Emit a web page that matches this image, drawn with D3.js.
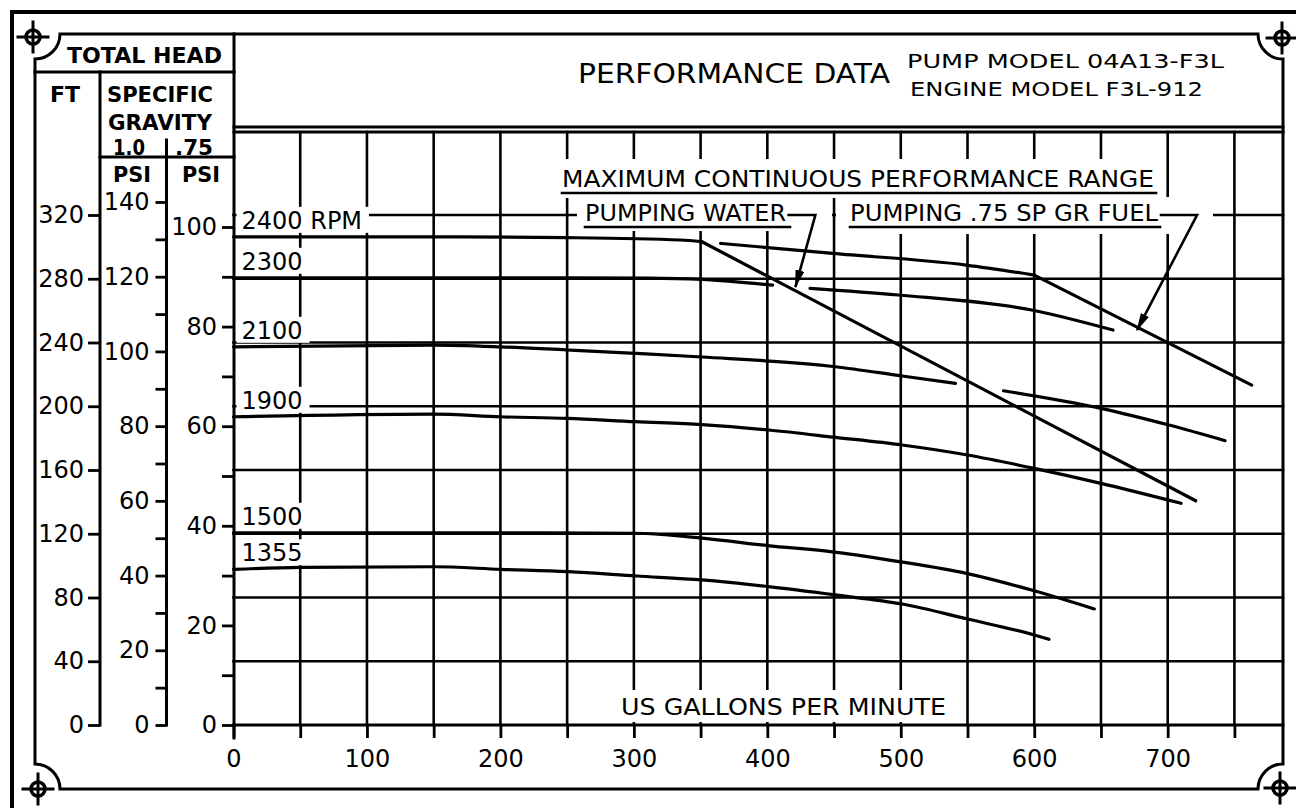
<html>
<head>
<title>Performance Data - Pump 04A13-F3L</title>
<script src="https://d3js.org/d3.v7.min.js"></script>
<style>
body { margin: 0; background: #fff; }
svg { display: block; }
text { font-family: 'DejaVu Sans', sans-serif; fill: #000; }
</style>
</head>
<body>
<div id="chart"></div>
<script>

// Tick values / labels
var gpmLabels = [0, 100, 200, 300, 400, 500, 600, 700];
var gpmGrid = [0, 50, 100, 150, 200, 250, 300, 350, 400, 450, 500, 550, 600, 650, 700, 750];
var ftLabels = [0, 40, 80, 120, 160, 200, 240, 280, 320];
var ftGrid = [40, 80, 120, 160, 200, 240, 280, 320];
var psiWaterLabels = [0, 20, 40, 60, 80, 100, 120, 140];
var psiWaterMinor = [10, 30, 50, 70, 90, 110, 130];
var psiFuelLabels = [0, 20, 40, 60, 80, 100];
var psiFuelMinor = [10, 30, 50, 70, 90];

// Head curves, [US gpm, total head ft]
var rpm2400Water = [[0, 306.3], [150, 306.3], [250, 305.8], [335, 304.3], [351, 303.2]];
var rpm2400Fuel = [[365, 302.2], [449, 295.9], [549, 288.6], [600, 282.3]];
var rpm2300Water = [[0, 280.6], [150, 280.6], [250, 280.5], [311, 280.4], [351, 279.6], [404, 276.0]];
var rpm2300Fuel = [[432, 274.0], [498, 269.8], [598, 260.4], [659, 247.8]];
var rpm2100Water = [[0, 237.3], [150, 238.4], [200, 237.3], [250, 235.3], [301, 233.2], [351, 230.9], [451, 224.8], [501, 219.0], [541, 214.4]];
var rpm2100Fuel = [[577, 209.7], [650, 198.7], [701, 188.2], [743, 178.4]];
var rpm1900 = [[0, 193.4], [150, 195.1], [200, 193.4], [250, 192.4], [301, 190.3], [351, 188.5], [401, 185.1], [451, 180.5], [501, 175.7], [550, 169.4], [600, 161.0], [650, 151.6], [710, 139.1]];
var rpm1500 = [[0, 120.6], [150, 120.6], [300, 120.3], [351, 117.3], [400, 112.6], [450, 108.5], [500, 102.4], [550, 95.0], [600, 84.2], [645, 72.8]];
var rpm1355 = [[0, 97.7], [50, 98.9], [150, 99.3], [200, 97.7], [251, 96.2], [302, 93.5], [351, 91.0], [401, 86.8], [451, 81.6], [501, 75.9], [550, 66.5], [600, 56.5], [611, 53.8]];

// Maximum continuous performance limits
var waterLimit = [[351, 303.2], [721, 140.7]];
var fuelLimit = [[600, 282.3], [763, 213.3]];

// Leader arrows (gpm, ft)
var waterArrow = [[415, 320], [436, 320], [421, 274.8]];
var fuelArrow = [[694, 320], [722, 320], [677, 247.8]];

var rpmNames = ["2400 RPM", "2300", "2100", "1900", "1500", "1355"];
var rpmStarts = [rpm2400Water, rpm2300Water, rpm2100Water, rpm1900, rpm1500, rpm1355];

var W = 1296, H = 808;
var svg = d3.select("#chart").append("svg").attr("width", W).attr("height", H);

var x = d3.scaleLinear().domain([0, 786.4]).range([233.5, 1283]);
var ft = d3.scaleLinear().domain([0, 320]).range([725, 215]);
var psiWater = d3.scaleLinear().domain([0, 140]).range([725, 202]);
var psiFuel = d3.scaleLinear().domain([0, 100]).range([725, 227]);

var plotTop = 132, plotBottom = 725;

function seg(g, x1, y1, x2, y2, w) {
  g.append("line").attr("x1", x1).attr("y1", y1).attr("x2", x2).attr("y2", y2)
  .attr("stroke", "#000").attr("stroke-width", w || 2.8).attr("stroke-linecap", "square");
}

var gridG = svg.append("g");
var maskG = svg.append("g");
var curveG = svg.append("g");
var frameG = svg.append("g");
var textG = svg.append("g");

// Grid
ftGrid.forEach(function (v) { seg(gridG, x(0), ft(v), x.range()[1], ft(v), 2.6); });
gpmGrid.forEach(function (v) { if (v > 0) seg(gridG, x(v), plotTop, x(v), plotBottom, 2.6); });
seg(gridG, x(0), plotBottom, x.range()[1], plotBottom, 2.8);

// Frames
svg.append("path").attr("d", "M12,808 V12 H1296")
.attr("fill", "none").attr("stroke", "#000").attr("stroke-width", 4);

var L = 35, R = 1283, T = 34, B = 789, r = 25;
frameG.append("path")
.attr("d", "M" + L + "," + (T + r) + " A" + r + "," + r + " 0 0 0 " + (L + r) + "," + T +
  " H" + (R - r) + " A" + r + "," + r + " 0 0 0 " + R + "," + (T + r) +
  " V" + (B - r) + " A" + r + "," + r + " 0 0 0 " + (R - r) + "," + B +
  " H" + (L + r) + " A" + r + "," + r + " 0 0 0 " + L + "," + (B - r) + " Z")
.attr("fill", "none").attr("stroke", "#000").attr("stroke-width", 3);

function crosshair(cx, cy) {
  var g = frameG.append("g").attr("transform", "translate(" + cx + "," + cy + ")");
  g.append("circle").attr("r", 7).attr("fill", "#fff").attr("stroke", "#000").attr("stroke-width", 3.5);
  seg(g, -15, 0, 15, 0, 3);
  seg(g, 0, -15, 0, 15, 3);
}
crosshair(L - 2, T + 3);
crosshair(R - 1, T + 4);
crosshair(L + 3, B);
crosshair(R - 3, B - 1);

// Header boxes
seg(frameG, L, 72, 234, 72, 3);
seg(frameG, 100, 72, 100, plotBottom, 3);
seg(frameG, 100, 157, 234, 157, 3);
seg(frameG, 166.5, 140, 166.5, plotBottom, 3);
seg(frameG, 234, T, 234, 738, 3);
seg(frameG, 234, 127, R, 127, 3);
seg(frameG, 234, plotTop, R, plotTop, 3);

// Axes
function styleAxis(g) {
  g.select(".domain").remove();
  g.attr("font-family", "'DejaVu Sans', sans-serif").attr("font-size", 24);
  g.selectAll("line").attr("stroke", "#000").attr("stroke-width", 2.8);
}
var ftAxis = frameG.append("g").attr("transform", "translate(100,0)")
.call(d3.axisLeft(ft).tickValues(ftLabels).tickSize(12).tickPadding(4));
styleAxis(ftAxis);

var pwMinor = frameG.append("g").attr("transform", "translate(166.5,0)")
.call(d3.axisLeft(psiWater).tickValues(psiWaterMinor).tickSize(11).tickFormat(""));
styleAxis(pwMinor);
var pwAxis = frameG.append("g").attr("transform", "translate(166.5,0)")
.call(d3.axisLeft(psiWater).tickValues(psiWaterLabels).tickSize(11).tickPadding(6));
styleAxis(pwAxis);

var pfMinor = frameG.append("g").attr("transform", "translate(234,0)")
.call(d3.axisLeft(psiFuel).tickValues(psiFuelMinor).tickSize(12).tickFormat(""));
styleAxis(pfMinor);
var pfAxis = frameG.append("g").attr("transform", "translate(234,0)")
.call(d3.axisLeft(psiFuel).tickValues(psiFuelLabels).tickSize(12).tickPadding(5));
styleAxis(pfAxis);

var xAxis = frameG.append("g").attr("transform", "translate(0," + plotBottom + ")")
.call(d3.axisBottom(x).tickValues(gpmGrid).tickSize(13).tickPadding(12)
  .tickFormat(function (d) { return gpmLabels.indexOf(d) >= 0 ? d : ""; }));
styleAxis(xAxis);

// Text with a white mask behind it (pad = [left, top, right, bottom] around the baseline box)
function label(str, tx, ty, size, len, opts) {
  opts = opts || {};
  var t = textG.append("text").attr("x", tx).attr("y", ty)
  .attr("font-size", size).text(str);
  if (opts.bold) t.attr("font-weight", "bold");
  if (len) t.attr("textLength", len).attr("lengthAdjust", "spacingAndGlyphs");
  if (opts.pad) {
    var w = len || t.node().getComputedTextLength();
    var p = opts.pad;
    maskG.append("rect").attr("x", tx - p[0]).attr("y", ty - p[1])
    .attr("width", w + p[0] + p[2]).attr("height", p[1] + p[3]).attr("fill", "#fff");
  }
  if (opts.underline) {
    seg(textG, tx, ty + 6, tx + (len || t.node().getComputedTextLength()) + opts.underline, ty + 6, 2.6);
  }
  return t;
}

// Left header
label("TOTAL HEAD", 67, 63, 22, 155, { bold: true });
label("FT", 50, 102, 22, 30, { bold: true });
label("SPECIFIC", 107, 102, 22, 106, { bold: true });
label("GRAVITY", 108, 130, 22, 104, { bold: true });
label("1.0", 113, 155, 22, 32, { bold: true });
label(".75", 175, 155, 22, 38, { bold: true });
label("PSI", 113, 182, 21, 38, { bold: true });
label("PSI", 182, 182, 21, 38, { bold: true });

// Main header
label("PERFORMANCE DATA", 578, 83, 26, 312);
label("PUMP MODEL 04A13-F3L", 907, 68, 19, 317);
label("ENGINE MODEL F3L-912", 910, 96, 20, 293);

// Range annotations
label("MAXIMUM CONTINUOUS PERFORMANCE RANGE", 562, 187, 23, 592, { pad: [4, 28, 6, 11], underline: 2 });
label("PUMPING WATER", 585, 221, 23, 201, { pad: [8, 24, 46, 10], underline: 4 });
label("PUMPING .75 SP GR FUEL", 850, 221, 23, 308, { pad: [14, 24, 55, 13], underline: 2 });
label("US GALLONS PER MINUTE", 621, 715, 23, 325, { pad: [9, 25, 9, 7] });

// RPM labels just above the start of each curve
rpmNames.forEach(function (name, i) {
  var by = ft(rpmStarts[i][0][1]) - 8;
  label(name, x(0) + 8, by, 24, null, { pad: [5, 22, 7, 4] });
});

// Curves
var line = d3.line().x(function (d) { return x(d[0]); }).y(function (d) { return ft(d[1]); })
.curve(d3.curveMonotoneX);
var straight = d3.line().x(function (d) { return x(d[0]); }).y(function (d) { return ft(d[1]); });

[rpm2400Water, rpm2400Fuel, rpm2300Water, rpm2300Fuel, rpm2100Water, rpm2100Fuel, rpm1900, rpm1500, rpm1355]
.forEach(function (c) {
  curveG.append("path").attr("d", line(c)).attr("fill", "none")
  .attr("stroke", "#000").attr("stroke-width", 3.2).attr("stroke-linecap", "round");
});
[waterLimit, fuelLimit].forEach(function (c) {
  curveG.append("path").attr("d", straight(c)).attr("fill", "none")
  .attr("stroke", "#000").attr("stroke-width", 3.2).attr("stroke-linecap", "round");
});

// Arrows
svg.append("defs").append("marker").attr("id", "arrow")
.attr("markerUnits", "userSpaceOnUse").attr("markerWidth", 18).attr("markerHeight", 9)
.attr("refX", 17).attr("refY", 4.5).attr("orient", "auto")
.append("path").attr("d", "M0,0 L18,4.5 L0,9 Z").attr("fill", "#000");

[waterArrow, fuelArrow].forEach(function (a) {
  textG.append("path").attr("d", straight(a)).attr("fill", "none")
  .attr("stroke", "#000").attr("stroke-width", 2.6).attr("marker-end", "url(#arrow)");
});

</script>
</body>
</html>
